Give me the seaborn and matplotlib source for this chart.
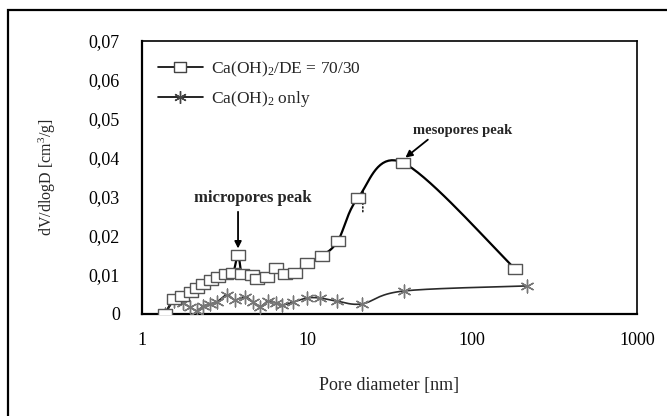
import numpy as np
import matplotlib
matplotlib.use("Agg")
import matplotlib.pyplot as plt
from matplotlib.lines import Line2D
from matplotlib.patches import Rectangle
import seaborn as sns
import pandas as pd

# ---- data ----
sq_d = [1.38, 1.56, 1.75, 1.98, 2.15, 2.34, 2.62, 2.89, 3.23, 3.56, 3.82, 4.04,
        4.64, 4.97, 5.72, 6.49, 7.36, 8.46, 10.0, 12.3, 15.4, 20.4, 38.1, 182]
sq_v = [0.0, 0.0039, 0.0046, 0.0057, 0.0067, 0.0077, 0.0087, 0.0095, 0.0103, 0.0105,
        0.0152, 0.0103, 0.0100, 0.0090, 0.0095, 0.0118, 0.0103, 0.0105, 0.0131,
        0.0149, 0.0188, 0.0298, 0.0388, 0.0116]
st_d = [1.38, 1.56, 1.77, 1.95, 2.15, 2.34, 2.58, 2.84, 3.27, 3.66, 4.21, 4.7,
        5.19, 5.8, 6.5, 7.1, 8.2, 10.0, 12.0, 15.2, 21.6, 38.6, 215]
st_v = [0.0, 0.0033, 0.0028, 0.0018, 0.0008, 0.0020, 0.0026, 0.0031, 0.0049,
        0.0036, 0.0044, 0.0031, 0.0018, 0.0033, 0.0028, 0.0023, 0.0030, 0.0041,
        0.0041, 0.0033, 0.0026, 0.0059, 0.0072]
series_names = [r"Ca(OH)$_2$/DE = 70/30", r"Ca(OH)$_2$ only"]
x_ticks = [1, 10, 100, 1000]
x_ticklabels = ["1", "10", "100", "1000"]
y_ticks = [0, 0.01, 0.02, 0.03, 0.04, 0.05, 0.06, 0.07]
y_ticklabels = ["0", "0,01", "0,02", "0,03", "0,04", "0,05", "0,06", "0,07"]

sns.set_theme(style="white")
plt.rcParams['font.family'] = ['Liberation Serif', 'DejaVu Serif']
plt.rcParams['mathtext.fontset'] = 'custom'
plt.rcParams['mathtext.rm'] = 'Liberation Serif'
plt.rcParams['mathtext.it'] = 'Liberation Serif:italic'
plt.rcParams['mathtext.bf'] = 'Liberation Serif:bold'


def smooth(xs, ys, n=20):
    """Excel-like smoothed line (Catmull-Rom in log-x space) through the data."""
    lx = np.log10(np.asarray(xs, float))
    y = np.asarray(ys, float)
    P = np.column_stack([lx, y])
    out = []
    for i in range(len(P) - 1):
        p0 = P[i - 1] if i > 0 else P[i]
        p1, p2 = P[i], P[i + 1]
        p3 = P[i + 2] if i + 2 < len(P) else P[i + 1]
        c1 = p1 + (p2 - p0) / 6.0
        c2 = p2 - (p3 - p1) / 6.0
        t = np.linspace(0, 1, n)[:, None]
        seg = ((1 - t) ** 3) * p1 + 3 * ((1 - t) ** 2) * t * c1 + 3 * (1 - t) * t ** 2 * c2 + t ** 3 * p2
        out.append(seg if i == 0 else seg[1:])
    S = np.vstack(out)
    return 10 ** S[:, 0], S[:, 1]


W, H = 667, 416
fig = plt.figure(figsize=(W / 100, H / 100), dpi=100)
ax = fig.add_axes([142 / W, 1 - 314 / H, (637 - 142) / W, (314 - 41) / H])

df_sq = pd.DataFrame({"d": sq_d, "v": sq_v})
df_st = pd.DataFrame({"d": st_d, "v": st_v})

sx, sy = smooth(sq_d, sq_v)
ax.plot(sx, sy, color="black", lw=1.6, zorder=2)
tx, ty = smooth(st_d, st_v)
ax.plot(tx, ty, color="#2a2a2a", lw=1.2, zorder=2)

star = (6, 2, 0)
rect = [(-1.3, -1.0), (1.3, -1.0), (1.3, 1.0), (-1.3, 1.0), (-1.3, -1.0)]
sns.scatterplot(data=df_st, x="d", y="v", ax=ax, marker=star, s=85,
                color="#777777", linewidth=1.0, zorder=3, legend=False)
sns.scatterplot(data=df_sq, x="d", y="v", ax=ax, marker=rect, s=90,
                facecolor="white", edgecolor="#555555", linewidth=1.0,
                zorder=4, legend=False)

ax.set_xscale("log")
ax.set_xlim(1, 1000)
ax.set_ylim(0, 0.07)
ax.set_xticks(x_ticks)
ax.set_xticklabels(x_ticklabels)
ax.xaxis.set_minor_locator(matplotlib.ticker.NullLocator())
ax.set_yticks(y_ticks)
ax.set_yticklabels(y_ticklabels)
ax.tick_params(axis="both", which="major", direction="inout", length=8,
               width=1.0, labelsize=13, colors="black", pad=6)
ax.tick_params(axis="x", pad=9)
ax.tick_params(axis="y", pad=12)

for s in ["left", "bottom"]:
    ax.spines[s].set_linewidth(1.6)
    ax.spines[s].set_color("black")
for s in ["top", "right"]:
    ax.spines[s].set_linewidth(1.2)
    ax.spines[s].set_color("black")

ax.set_xlabel("Pore diameter [nm]", fontsize=13, labelpad=20)
ax.set_ylabel(r"dV/dlogD [cm$^3$/g]", fontsize=11.5, labelpad=22)

handles = [
    Line2D([], [], color="black", lw=1.2, marker=rect, markersize=9,
           markerfacecolor="white", markeredgecolor="#444444"),
    Line2D([], [], color="black", lw=1.2, marker=star, markersize=9,
           markeredgecolor="#444444"),
]
leg = ax.legend(handles, series_names, loc="upper left",
                bbox_to_anchor=(0.0, 0.99), frameon=False, fontsize=12.5,
                handlelength=2.6, handletextpad=0.5, labelspacing=0.6)

# annotations
ax.text(4.7, 0.0298, "micropores peak", ha="center", va="center",
        fontsize=12, fontweight="bold")
ax.annotate("", xy=(3.82, 0.0168), xytext=(3.82, 0.0262),
            arrowprops=dict(arrowstyle="-|>", color="black", lw=1.3,
                            mutation_scale=10, shrinkA=0, shrinkB=0))
ax.text(88.3, 0.0470, "mesopores peak", ha="center", va="center",
        fontsize=10.5, fontweight="bold")
ax.annotate("", xy=(39.5, 0.0401), xytext=(54.0, 0.0447),
            arrowprops=dict(arrowstyle="-|>", color="black", lw=1.3,
                            mutation_scale=10, shrinkA=0, shrinkB=0))
ax.annotate("", xy=(21.8, 0.0318), xytext=(21.8, 0.0262),
            arrowprops=dict(arrowstyle="-|>", color="black", lw=1.0,
                            linestyle=":", mutation_scale=7,
                            shrinkA=0, shrinkB=0))

# outer chart-area border (cropped at right/bottom)
fig.patches.append(Rectangle((8 / W, -0.5), 2.0, 1.5 - 10 / H,
                             transform=fig.transFigure, fill=False,
                             edgecolor="black", lw=1.6))

fig.savefig("out.png", dpi=100)
